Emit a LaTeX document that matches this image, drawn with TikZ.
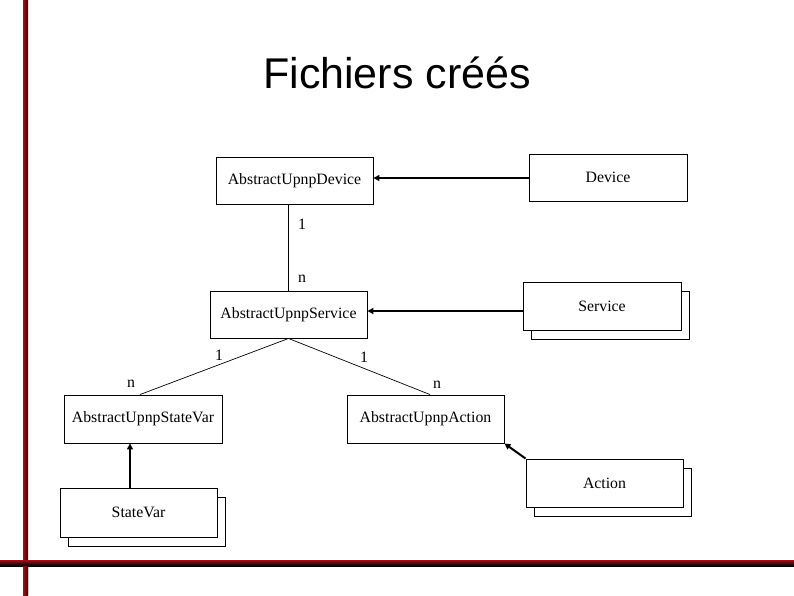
\documentclass[tikz,border=0pt]{standalone}
\usepackage{fontspec}
\setmainfont{Liberation Serif}
\newfontfamily\titlefont{Liberation Sans}
\usetikzlibrary{arrows.meta,shadows}
\definecolor{barred}{RGB}{160,15,25}
\definecolor{bardark}{RGB}{70,0,0}
\begin{document}
\begin{tikzpicture}[x=1pt,y=-1pt,
  cls/.style={draw,line width=0.9pt,fill=white,inner sep=0pt,font=\fontsize{15.8}{18}\selectfont},
  multi/.style={cls,copy shadow={shadow xshift=8pt,shadow yshift=-9pt,draw,line width=0.9pt,fill=white}},
  inh/.style={line width=2pt,-{Triangle[length=6pt,width=6pt]}},
  assoc/.style={line width=0.7pt},
  mult/.style={inner sep=0pt,font=\fontsize{15.8}{18}\selectfont}]
\useasboundingbox (0,0) rectangle (794,595);
\fill[white] (0,0) rectangle (794,595);
% decorative bars
\shade[left color=barred,right color=bardark] (23,0) rectangle (28,595);
\shade[top color=barred,bottom color=black] (0,560) rectangle (794,566);
\shade[left color=barred,right color=bardark] (23,566) rectangle (28,593);
% title
\node[font=\titlefont\fontsize{43}{50}\selectfont,inner sep=0pt] (title) at (397,73) {Fichiers créés};
% class boxes
\node[cls,minimum width=157pt,minimum height=47pt] (dev) at (294.5,180.5) {\raisebox{-2pt}{AbstractUpnpDevice}};
\node[cls,minimum width=158pt,minimum height=47pt] (device) at (608,177.5) {Device};
\node[cls,minimum width=157pt,minimum height=47pt] (svc) at (288.5,314.5) {\raisebox{-1pt}{AbstractUpnpService}};
\node[multi,minimum width=158pt,minimum height=48pt] (service) at (602,306) {Service};
\node[cls,minimum width=158pt,minimum height=48pt] (asv) at (143,419) {AbstractUpnpStateVar};
\node[cls,minimum width=157pt,minimum height=48pt] (aua) at (425.5,419) {AbstractUpnpAction};
\node[multi,minimum width=157pt,minimum height=49pt] (statevar) at (138.5,512.5) {StateVar};
\node[multi,minimum width=157pt,minimum height=48pt] (action) at (604.5,483) {Action};
% inheritance arrows
\draw[inh] (device.west |- 0,178) -- (dev.east |- 0,178);
\draw[inh] (service.west |- 0,311) -- (svc.east |- 0,311);
\draw[inh] (statevar.north -| 130,0) -- (asv.south -| 130,0);
\draw[inh] (action.north west) -- (aua.south east);
% associations
\draw[assoc] (svc.north) -- (dev.south -| svc.north);
\draw[assoc] (svc.south) -- ([xshift=-3pt]asv.north);
\draw[assoc] (svc.south) -- ([xshift=4.5pt]aua.north);
% multiplicities
\node[mult] (m1) at (302,224) {1};
\node[mult] (m2) at (302,279) {n};
\node[mult] (m3) at (219,355) {1};
\node[mult] (m4) at (131,384) {n};
\node[mult] (m5) at (364,357) {1};
\node[mult] (m6) at (437,385) {n};
\end{tikzpicture}
\end{document}
